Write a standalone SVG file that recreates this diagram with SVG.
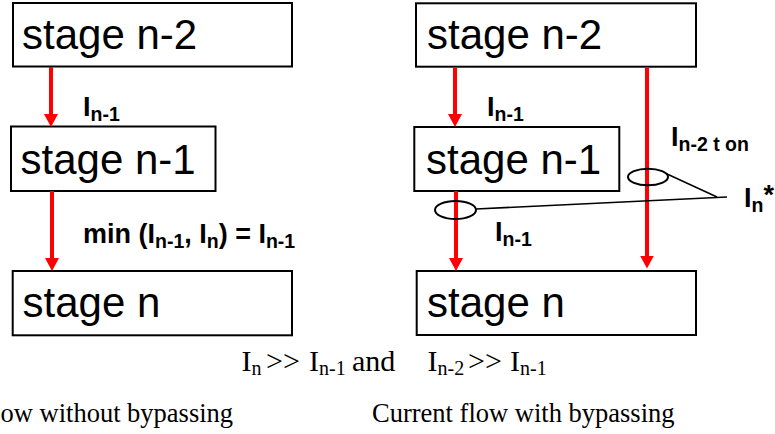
<svg xmlns="http://www.w3.org/2000/svg" width="775" height="434" viewBox="0 0 775 434">
  <style>
    .box { fill: #ffffff; stroke: #000000; stroke-width: 2; }
    .stage { font-family: "Liberation Sans", Arial, sans-serif; font-size: 42px; fill: #000000; }
    .lbl { font-family: "Liberation Sans", Arial, sans-serif; font-size: 27px; font-weight: bold; fill: #000000; }
    .lbl .sub { font-size: 19.5px; }
    .flow { stroke: #ff0000; stroke-width: 4; fill: none; marker-end: url(#ah); }
    .ring { fill: none; stroke: #000000; stroke-width: 2; }
    .lead { fill: none; stroke: #000000; stroke-width: 1.5; }
    .eq { font-family: "Liberation Serif", "Times New Roman", serif; font-size: 30px; fill: #000000; }
    .eq .sub { font-size: 20px; }
    .cap { font-family: "Liberation Serif", "Times New Roman", serif; font-size: 26.5px; fill: #000000; }
  </style>
  <defs>
    <marker id="ah" viewBox="0 0 13 14" refX="3" refY="7" markerWidth="13" markerHeight="14" orient="auto" markerUnits="userSpaceOnUse">
      <path d="M0,0 L13,7 L0,14 z" fill="#ff0000"/>
    </marker>
  </defs>

  <rect width="775" height="434" fill="#ffffff"/>

  <!-- left chain: no bypass -->
  <g id="l-stage-n2">
    <rect class="box" x="13" y="3" width="279" height="63.5"/>
    <text class="stage" x="22" y="48.5">stage n-2</text>
  </g>
  <g id="l-stage-n1">
    <rect class="box" x="11" y="126.5" width="204.5" height="64.5"/>
    <text class="stage" x="20.5" y="173.5">stage n-1</text>
  </g>
  <g id="l-stage-n">
    <rect class="box" x="12.7" y="271" width="279.3" height="64.3"/>
    <text class="stage" x="22.5" y="316.5">stage n</text>
  </g>

  <!-- right chain: with bypass -->
  <g id="r-stage-n2">
    <rect class="box" x="416" y="3.3" width="280" height="63.4"/>
    <text class="stage" x="427" y="48.5">stage n-2</text>
  </g>
  <g id="r-stage-n1">
    <rect class="box" x="414.3" y="127" width="205" height="64"/>
    <text class="stage" x="426" y="173.5">stage n-1</text>
  </g>
  <g id="r-stage-n">
    <rect class="box" x="416.7" y="271" width="279.3" height="64"/>
    <text class="stage" x="427" y="316.5">stage n</text>
  </g>

  <!-- current arrows -->
  <g id="connectors">
    <line class="flow" x1="51" y1="67" x2="51" y2="117"/>
    <line class="flow" x1="52" y1="191" x2="52" y2="261"/>
    <line class="flow" x1="455" y1="67" x2="455" y2="117"/>
    <line class="flow" x1="456" y1="191" x2="456" y2="261"/>
    <line class="flow" x1="647" y1="68" x2="647" y2="258.5"/>
  </g>

  <!-- current labels -->
  <g id="labels">
    <text class="lbl" x="83" y="116">I<tspan class="sub" dy="5">n-1</tspan></text>
    <text class="lbl" x="83" y="243">min (I<tspan class="sub" dy="5">n-1</tspan><tspan dy="-5">, I</tspan><tspan class="sub" dy="5">n</tspan><tspan dy="-5">) = I</tspan><tspan class="sub" dy="5">n-1</tspan></text>
    <text class="lbl" x="487" y="116">I<tspan class="sub" dy="5">n-1</tspan></text>
    <text class="lbl" x="671" y="145.5">I<tspan class="sub" dy="5">n-2 t on</tspan></text>
    <text class="lbl" x="495" y="241">I<tspan class="sub" dy="5">n-1</tspan></text>
  </g>

  <!-- I_n* callout: the two branch currents that sum into stage n -->
  <g id="callout">
    <ellipse class="ring" cx="648" cy="177" rx="20" ry="8.3"/>
    <ellipse class="ring" cx="455.5" cy="210" rx="20.5" ry="9"/>
    <line class="lead" x1="666" y1="173.5" x2="717" y2="197"/>
    <line class="lead" x1="476" y1="209" x2="727" y2="197"/>
    <text class="lbl" x="744" y="207">I<tspan class="sub" dy="5">n</tspan><tspan dy="-8">*</tspan></text>
  </g>

  <!-- condition and captions -->
  <g id="notes">
    <text class="eq" x="241.5" y="370.5">I<tspan class="sub" dy="4">n</tspan><tspan dy="-4" x="266">&gt;&gt;</tspan><tspan x="309">I</tspan><tspan class="sub" dy="4">n-1</tspan><tspan dy="-4" x="352">and</tspan><tspan x="427.5">I</tspan><tspan class="sub" dy="4">n-2</tspan><tspan dy="-4" x="468">&gt;&gt;</tspan><tspan x="510">I</tspan><tspan class="sub" dy="4">n-1</tspan></text>
    <text class="cap" x="0.5" y="422">ow without bypassing</text>
    <text class="cap" x="372" y="422">Current flow with bypassing</text>
  </g>
</svg>
